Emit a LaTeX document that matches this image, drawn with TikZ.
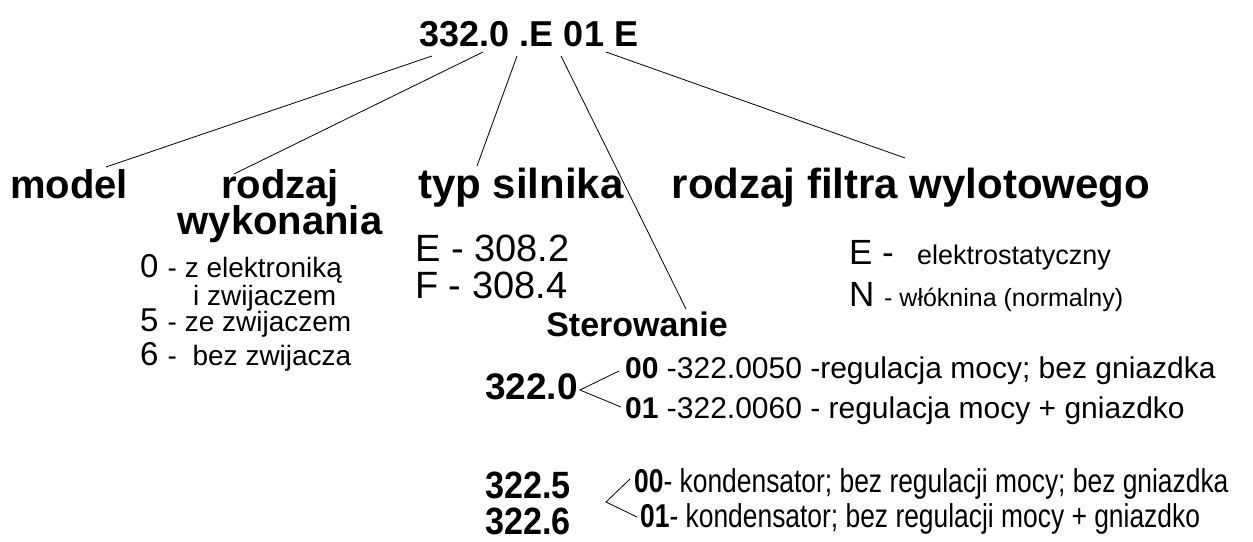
\documentclass[tikz,border=0pt]{standalone}
\usepackage{fontspec}
\setmainfont{Liberation Sans}
\newfontfamily\narrowfont[FakeStretch=0.9]{Liberation Sans}
\newfontfamily\narrowtext[FakeStretch=0.8]{Liberation Sans}
\newcommand{\fs}[1]{\fontsize{#1}{#1}\selectfont}
\begin{document}
\begin{tikzpicture}[x=1pt,y=-1pt,
  lbl/.style={inner sep=0pt,anchor=base,font=\fs{40}\bfseries},
  txt/.style={inner sep=0pt,anchor=base west},
  conn/.style={line width=0.8pt}]
\useasboundingbox (0,0) rectangle (1253,541);
% title
\node[inner sep=0pt,anchor=base,font=\fs{36}\bfseries] (title) at (529,46) {332.0 .E 01 E};
% categories
\node[lbl] (model) at (69,198) {model};
\node[lbl] (rodzaj) at (280,198) {rodzaj};
\node[lbl] (wyk) at (280,234) {wykonania};
\node[lbl,anchor=base west,font=\fs{42}\bfseries] (typ) at (418,198) {typ silnika};
\node[lbl,font=\fs{42}\bfseries] (filtr) at (911,198) {rodzaj filtra wylotowego};
\node[lbl,font=\fs{34}\bfseries] (ster) at (637,336) {Sterowanie};
% connector ends
\coordinate (t1) at (432,56);
\coordinate (t2) at (483,52);
\coordinate (t3) at (517,56);
\coordinate (t4) at (561,56);
\coordinate (t5) at (606,52);
\coordinate (m1) at (106,167);
\coordinate (m2) at (234,174);
\coordinate (m3) at (477,166);
\coordinate (m4) at (686,309);
\coordinate (m5) at (905,158);
\draw[conn] (t1) -- (m1);
\draw[conn] (t2) -- (m2);
\draw[conn] (t3) -- (m3);
\draw[conn] (t4) -- (m4);
\draw[conn] (t5) -- (m5);
% rodzaj wykonania options
\node[txt] (o0) at (140,277) {\fs{33}0 \fs{28}- z elektroniką};
\node[txt] (o0b) at (193,305) {\fs{28}i zwijaczem};
\node[txt] (o5) at (140,331) {\fs{33}5 \fs{28}- ze zwijaczem};
\node[txt] (o6) at (140,365) {\fs{33}6 \fs{28}-~ bez zwijacza};
% typ silnika options
\node[txt] (e) at (415,261) {\fs{38}E - 308.2};
\node[txt] (f) at (415,298) {\fs{38}F - 308.4};
% filter options
\node[txt] (fe) at (849,264) {\fs{35}E -};
\node[txt] (fe2) at (917,264) {\fs{27}elektrostatyczny};
\node[txt] (fn) at (849,306) {\fs{35}N \fs{25}- włóknina (normalny)};
% sterowanie 322.0
\node[inner sep=0pt,anchor=base west,font=\fs{37}\bfseries] (s0) at (485,399) {322.0};
\coordinate (v0) at (580,390);
\coordinate (a0) at (619,371);
\coordinate (b0) at (621,407);
\draw[conn] (a0) -- (v0) -- (b0);
\node[txt] (s00) at (625,378) {\fs{30}\textbf{00} -322.0050 -regulacja mocy; bez gniazdka};
\node[txt] (s01) at (625,418) {\fs{30}\textbf{01} -322.0060 - regulacja mocy + gniazdko};
% sterowanie 322.5/322.6
\node[anchor=base west,inner sep=0pt,font=\narrowfont\fs{38}\bfseries] (s5) at (485,498) {322.5};
\node[anchor=base west,inner sep=0pt,font=\narrowfont\fs{38}\bfseries] (s6) at (485,534) {322.6};
\coordinate (v5) at (606,502);
\coordinate (a5) at (630,479);
\coordinate (b5) at (637,517);
\draw[conn] (a5) -- (v5) -- (b5);
\node[txt,font=\narrowtext\fs{33}] (k00) at (634,492) {\textbf{00}- kondensator; bez regulacji mocy; bez gniazdka};
\node[txt,font=\narrowtext\fs{33}] (k01) at (640,527) {\textbf{01}- kondensator; bez regulacji mocy + gniazdko};
\end{tikzpicture}
\end{document}
